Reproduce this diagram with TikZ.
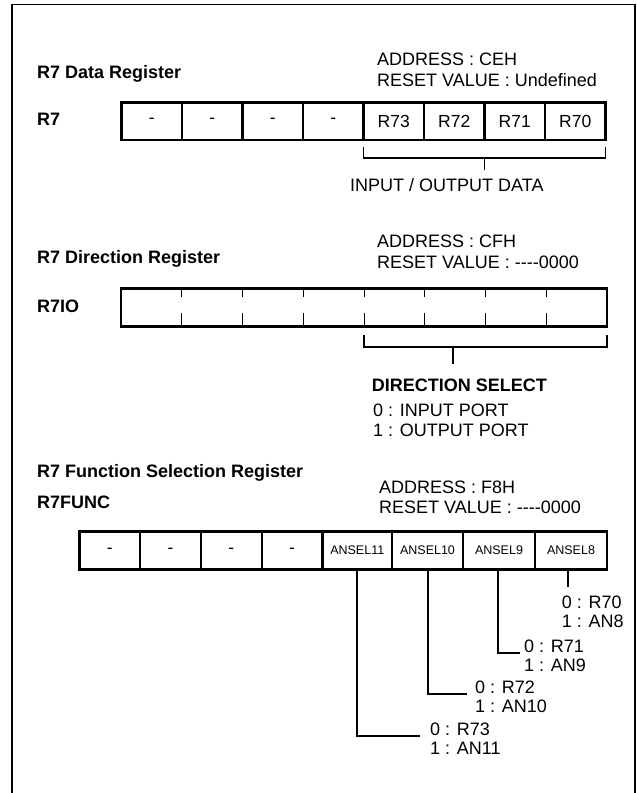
\documentclass[tikz,border=0pt]{standalone}
\usepackage{fontspec}
\setmainfont{Liberation Sans}
\newcommand\hy{\mbox{-}}
\tikzset{
  txt/.style={inner sep=0pt, anchor=base west, font=\fontsize{18}{20}\selectfont},
  ttl/.style={inner sep=0pt, anchor=base west, font=\fontsize{18}{20}\selectfont\bfseries},
  cell/.style={draw, line width=2.2pt, inner sep=0pt, outer sep=0pt, font=\fontsize{17.5}{20}\selectfont},
  hcell/.style={inner sep=0pt, outer sep=0pt},
  outline/.style={line width=2.8pt},
  tick/.style={line width=1pt},
  brack/.style={line width=1.8pt},
  conn/.style={line width=2pt},
  frame/.style={line width=1.7pt}
}
\begin{document}
\begin{tikzpicture}[x=1pt,y=-1pt]
\useasboundingbox (0,0) rectangle (637,793);
% frame (open at the bottom)
\draw[frame] (12,793) -- (12,4.5) -- (635,4.5) -- (635,793);

% ---------------- R7 Data Register ----------------
\node[ttl] (t1) at (37,78) {R7 Data Register};
\node[ttl] (n1) at (37,125) {R7};
\node[txt] (a1) at (377,65.7) {ADDRESS : CEH};
\node[txt] (r1) at (377,86.7) {RESET VALUE : Undefined};
\foreach \t [count=\i] in {-,-,-,-,R73,R72,R71,R70}
  \node[cell, minimum width=60.5pt, minimum height=37.5pt] (d\i) at ({121.5+60.5*(\i-0.5)},121.25) {\t};
\draw[outline] (d1.north west) rectangle (d8.south east);
\draw[brack] ([yshift=-7pt]d5.south west) -- ([yshift=-18pt]d5.south west)
  -- ([yshift=-18pt]d8.south east) -- ([yshift=-7pt]d8.south east);
\coordinate (ds1) at (484.5,158);
\coordinate (ds2) at (484.5,170);
\draw[brack] (ds1) -- (ds2);
\node[txt] (io) at (350,191.5) {INPUT / OUTPUT DATA};

% ---------------- R7 Direction Register ----------------
\node[ttl] (t2) at (37,263.3) {R7 Direction Register};
\node[ttl] (n2) at (37,312.7) {R7IO};
\node[txt] (a2) at (377,247) {ADDRESS : CFH};
\node[txt] (r2) at (377,268.3) {RESET VALUE : \hy\hy\hy\hy0000};
\foreach \i in {1,...,8}
  \node[hcell, minimum width=60.75pt, minimum height=38.2pt] (e\i) at ({121+60.75*(\i-0.5)},307.6) {};
\draw[outline] (e1.north west) rectangle (e8.south east);
\foreach \i in {1,...,7}{
  \draw[tick] (e\i.north east) -- ++(0,8.5);
  \draw[tick] (e\i.south east) -- ++(0,-14);
}
\draw[brack] ([yshift=-8.5pt]e5.south west) -- ([yshift=-20pt]e5.south west)
  -- ([yshift=-20pt]e8.south east) -- ([yshift=-8.5pt]e8.south east);
\coordinate (es1) at (453.3,346.7);
\coordinate (es2) at (453.3,364);
\draw[brack] (es1) -- (es2);
\node[ttl] (ds) at (371.7,391.7) {DIRECTION SELECT};
\node[txt] (ip) at (373,416.5) {0 : INPUT PORT};
\node[txt] (op) at (373,436) {1 : OUTPUT PORT};

% ---------------- R7 Function Selection Register ----------------
\node[ttl] (t3) at (37,477.3) {R7 Function Selection Register};
\node[ttl] (n3) at (37,508.3) {R7FUNC};
\node[txt] (a3) at (379,493) {ADDRESS : F8H};
\node[txt] (r3) at (379,513.3) {RESET VALUE : \hy\hy\hy\hy0000};
\foreach \x/\w [count=\i] in {109.875/60.75,170.625/60.75,231.375/60.75,292.125/60.75}
  \node[cell, minimum width=\w pt, minimum height=37.8pt] (f\i) at (\x,550.6) {-};
\node[cell, minimum width=69.5pt, minimum height=37.8pt, font=\fontsize{12.5}{14}\selectfont] (f5) at (357.25,550.6) {ANSEL11};
\node[cell, minimum width=71pt, minimum height=37.8pt, font=\fontsize{12.5}{14}\selectfont] (f6) at (427.5,550.6) {ANSEL10};
\node[cell, minimum width=72pt, minimum height=37.8pt, font=\fontsize{12.5}{14}\selectfont] (f7) at (499,550.6) {ANSEL9};
\node[cell, minimum width=72pt, minimum height=37.8pt, font=\fontsize{12.5}{14}\selectfont] (f8) at (571,550.6) {ANSEL8};
\draw[outline] (f1.north west) rectangle (f8.south east);

% labels
\node[txt] (l70) at (561.7,608) {0 : R70};
\node[txt] (l8) at (561.7,627) {1 : AN8};
\node[txt] (l71) at (524,652) {0 : R71};
\node[txt] (l9) at (524,671) {1 : AN9};
\node[txt] (l72) at (475,693) {0 : R72};
\node[txt] (l10) at (475,712) {1 : AN10};
\node[txt] (l73) at (430,735) {0 : R73};
\node[txt] (l11) at (430,754) {1 : AN11};

% connectors
\coordinate (c8) at (567.7,586.7);
\draw[conn] ([xshift=-3.3pt]f8.south) -- (c8);
\draw[conn] ([xshift=-1.3pt]f7.south) |- ([xshift=-4pt,yshift=-1pt]l71.base west);
\draw[conn] (f6.south) |- ([xshift=-8.3pt,yshift=-0.5pt]l72.base west);
\draw[conn] (f5.south) |- ([xshift=-10pt,yshift=-1pt]l73.base west);
\end{tikzpicture}
\end{document}
